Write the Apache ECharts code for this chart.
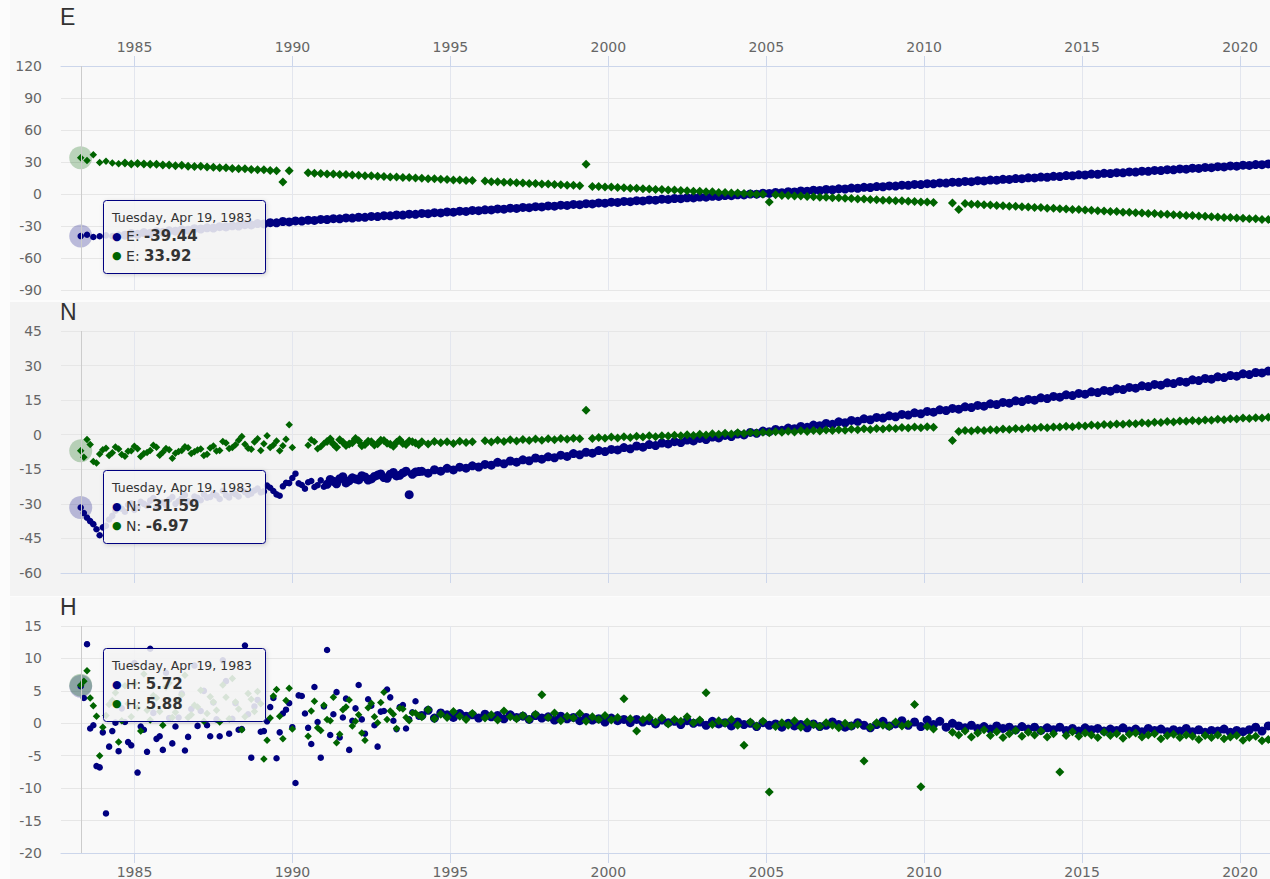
<!DOCTYPE html>
<html><head><meta charset="utf-8">
<script src="https://cdn.jsdelivr.net/npm/echarts@6/dist/echarts.min.js"></script>
<style>
html,body{margin:0;padding:0;background:#fcfcfc;width:1270px;height:879px;overflow:hidden}
.bg{position:absolute;left:10px;width:1260px}
#chart{position:absolute;left:0;top:0;width:1270px;height:879px}
</style></head><body>
<div class="bg" style="top:0;height:300px;background:#f9f9f9"></div>
<div class="bg" style="top:302px;height:294px;background:#f3f3f3"></div>
<div class="bg" style="top:597px;height:282px;background:#f9f9f9"></div>
<div id="chart"></div>
<script>
// sampling: first sample is the hovered date (Tuesday, Apr 19, 1983), then every 0.2 year
const START_YEAR = 1983.296;
const STEP_YEARS = 0.2;
// extra early samples (sparse, noisy years) sit halfway between the regular ones
const EXTRA_OFFSET = 0.1;
const denseFrom = [1984.5, 1991, 1994]; // per panel: from here markers merge into a band
const X_MIN = 1982.672, X_MAX = 2020.95;
const tickYears = [1985, 1990, 1995, 2000, 2005, 2010, 2015, 2020];
const panelNames = ['E', 'N', 'H'];
const yRanges = [[-90, 120, 30], [-60, 45, 15], [-20, 15, 5]];
const hoverLabel = 'Tuesday, Apr 19, 1983';
const blueName = 'navy solution', greenName = 'green solution';

const eBlue = [-39.44,-38.2,-40.3,-39.6,-38.8,-39.5,-38.0,-38.6,-37.1,-37.8,-36.2,-36.9,-35.4,-35.9,-34.5,-34.9,-33.6,-33.9,-32.5,-32.8,
-31.7,-31.9,-30.6,-30.9,-29.8,-30.1,-28.8,-29.0,-27.7,-28.1,-26.9,-27.0,-25.8,-26.2,-25.2,-25.4,-24.5,-24.8,-23.8,-23.9,
-23.1,-23.3,-22.4,-22.6,-21.8,-21.9,-21.0,-21.2,-20.3,-20.5,-19.6,-19.8,-18.9,-19.1,-18.2,-18.4,-17.5,-17.7,-16.8,-17.0,
-16.1,-16.3,-15.4,-15.6,-14.8,-14.9,-14.0,-14.2,-13.3,-13.5,-12.6,-12.8,-11.9,-12.1,-11.2,-11.4,-10.5,-10.7,-9.8,-10.0,
-9.1,-9.3,-8.4,-8.6,-7.7,-7.9,-7.0,-7.2,-6.3,-6.5,-5.6,-5.8,-4.9,-5.1,-4.2,-4.4,-3.5,-3.7,-2.8,-3.0,
-2.1,-2.3,-1.4,-1.6,-0.7,-0.9,0.0,-0.2,0.7,0.5,1.4,1.2,2.1,1.9,2.8,2.6,3.5,3.3,4.2,4.0,
4.9,4.7,5.6,5.4,6.3,6.1,7.0,6.8,7.6,7.4,8.3,8.1,9.0,8.8,9.7,9.5,10.4,10.2,11.1,10.9,
11.8,11.6,12.5,12.3,13.1,13.0,13.8,13.7,14.5,14.4,15.2,15.1,15.9,15.7,16.6,16.4,17.3,17.1,18.0,17.8,
18.7,18.5,19.4,19.2,20.0,19.9,20.7,20.6,21.4,21.3,22.1,22.0,22.8,22.7,23.5,23.3,24.2,24.0,24.9,24.7,
25.6,25.4,26.3,26.1,27.0,26.8,27.6,27.5,28.2];

const eGreen = [33.92,31.5,36.8,29.6,30.8,29.1,28.4,29.0,28.1,28.7,28.2,27.8,27.9,27.2,27.3,26.6,26.9,26.1,25.7,25.9,
25.2,25.1,24.5,24.6,24.0,23.6,23.7,23.0,22.8,22.7,22.1,21.9,11.2,21.8,null,null,19.9,19.4,19.3,18.8,
18.8,18.3,18.2,17.7,17.6,17.2,17.1,16.6,16.5,16.0,16.0,15.5,15.4,14.9,14.8,14.4,14.3,13.8,13.7,13.2,
13.2,12.7,12.6,null,12.1,11.6,11.5,11.0,10.9,10.5,10.4,9.9,9.8,9.3,9.3,8.8,8.7,8.2,8.1,7.7,
28.0,7.1,7.0,6.5,6.5,6.0,5.9,5.4,5.3,4.9,4.8,4.3,4.2,3.7,3.7,3.2,3.1,2.6,2.5,2.1,
2.0,1.5,1.4,0.9,0.9,0.4,0.3,-0.2,-0.3,-7.6,-0.8,-1.3,-1.4,-1.9,-1.9,-2.4,-2.5,-3.0,-3.1,-3.5,
-3.6,-4.1,-4.2,-4.7,-4.7,-5.2,-5.3,-5.8,-5.9,-6.3,-6.4,-6.9,-7.0,-7.5,-7.5,-8.0,null,null,-8.4,-14.6,
-9.0,-9.5,-9.6,-10.1,-10.3,-10.8,-10.9,-11.4,-11.5,-12.0,-12.1,-12.6,-12.7,-13.3,-13.4,-13.9,-14.0,-14.5,-14.6,-15.1,
-15.2,-15.7,-15.9,-16.4,-16.5,-17.0,-17.1,-17.6,-17.7,-18.2,-18.3,-18.9,-19.0,-19.5,-19.6,-20.1,-20.2,-20.7,-20.8,-21.3,
-21.5,-22.0,-22.1,-22.6,-22.7,-23.2,-23.3,-23.8,-23.9];

const nBlue = [-31.59,-36.0,-38.8,-43.6,-39.5,-35.2,-31.0,-33.4,-29.8,-31.5,-30.0,-28.6,-31.2,-29.4,-28.1,-30.0,-27.6,-28.9,-26.8,-28.4,
-27.3,-25.6,-27.9,-26.2,-25.1,-26.8,-24.9,-25.5,-23.4,-24.6,-23.0,-25.9,-22.4,-21.0,-16.9,-21.8,-20.6,-22.7,-19.8,-21.5,
-20.2,-19.1,-20.9,-18.7,-19.6,-18.3,-19.2,-17.5,-18.6,-17.1,-17.9,-16.6,-26.0,-16.2,-15.9,-16.7,-15.2,-15.8,-14.6,-15.3,
-14.1,-14.5,-13.5,-14.0,-12.9,-13.2,-12.0,-12.6,-11.4,-11.9,-10.9,-11.3,-10.1,-10.6,-9.6,-10.0,-8.9,-9.4,-8.2,-8.7,
-7.6,-8.0,-6.9,-7.3,-6.4,-6.6,-5.6,-6.1,-4.9,-5.4,-4.3,-4.7,-3.6,-4.0,-3.0,-3.4,-2.3,-2.7,-1.6,-2.1,
-1.0,-1.4,-0.3,-0.8,0.3,-0.1,1.0,0.6,1.6,1.3,2.3,1.9,2.9,2.6,3.6,3.2,4.2,3.9,4.9,4.5,
5.6,5.2,6.2,5.8,6.9,6.5,7.5,7.2,8.2,7.8,8.8,8.5,9.5,9.1,10.1,9.8,10.8,10.5,11.4,11.1,
12.1,11.8,12.7,12.4,13.4,13.1,14.0,13.7,14.7,14.4,15.3,15.0,16.0,15.7,16.6,16.3,17.3,17.0,17.9,17.6,
18.6,18.3,19.2,18.9,19.9,19.6,20.5,20.2,21.2,20.9,21.8,21.5,22.5,22.2,23.1,22.8,23.8,23.5,24.4,24.1,
25.1,24.8,25.7,25.4,26.4,26.1,27.0,26.8,27.6];

const nGreen = [-6.97,-2.1,-11.6,-8.4,-5.9,-7.8,-6.2,-9.3,-7.0,-6.1,-8.2,-6.8,-5.4,-7.6,-6.5,-8.0,-6.9,-5.7,-7.4,-6.2,
-8.5,-4.9,-6.8,-3.6,-5.5,-2.4,-4.1,-6.3,-1.8,-3.9,-5.6,-2.7,-4.8,4.3,null,null,-4.6,-3.1,-5.2,-2.9,
-4.0,-2.2,-4.7,-3.5,-2.6,-4.3,-3.0,-3.9,-2.5,-4.1,-3.3,-3.8,-2.7,-3.6,-3.1,-4.0,-2.9,-3.5,-3.0,-3.8,
-2.8,-3.4,-3.0,null,-2.6,-3.2,-2.4,-2.9,-2.2,-2.7,-2.1,-2.5,-1.9,-2.4,-1.8,-2.2,-1.6,-2.0,-1.5,-1.8,
10.6,-1.6,-1.2,-1.5,-1.0,-1.4,-0.9,-1.2,-0.7,-1.0,-0.5,-0.9,-0.4,-0.6,-0.2,-0.5,0.0,-0.3,0.2,-0.1,
0.4,0.2,0.6,0.3,0.8,0.5,1.0,0.7,1.1,0.9,1.3,1.1,1.5,1.2,1.7,1.4,1.8,1.6,2.0,1.8,
2.2,1.9,2.4,2.1,2.6,2.3,2.7,2.5,2.9,2.7,3.1,2.9,3.3,3.0,3.5,3.2,null,null,-2.5,1.4,
1.8,1.6,2.0,1.8,2.2,2.0,2.5,2.3,2.7,2.5,3.0,2.8,3.2,3.0,3.4,3.3,3.7,3.5,3.9,3.8,
4.2,4.0,4.4,4.3,4.7,4.5,4.9,4.8,5.2,5.0,5.4,5.3,5.7,5.5,5.9,5.8,6.2,6.0,6.4,6.3,
6.7,6.5,6.9,6.8,7.2,7.0,7.4,7.3,7.6];

const hBlue = [5.72,12.2,-0.3,-6.8,-13.9,-1.2,-4.3,0.2,-3.4,-7.6,-1.0,11.5,-2.4,-4.1,0.8,-0.5,4.6,-2.1,8.9,1.9,
-0.3,3.2,-2.0,6.5,0.7,-1.0,12.0,-5.3,3.6,-1.2,2.5,-5.4,1.5,3.1,-9.2,4.2,-0.7,5.6,-5.3,11.3,
1.4,-2.2,3.8,0.4,5.9,-1.6,2.7,-3.6,1.9,4.0,-0.9,2.8,0.6,3.4,1.2,2.0,0.8,1.6,1.3,0.9,
1.5,1.1,1.3,0.8,1.4,1.0,1.2,0.7,1.3,0.9,1.1,0.6,1.2,0.8,1.0,0.5,1.1,0.7,0.9,0.4,
0.9,0.5,0.7,0.2,0.8,0.4,0.6,0.1,0.6,0.2,0.4,-0.1,0.5,0.1,0.3,-0.2,0.4,0.0,0.2,-0.3,
0.3,-0.1,0.1,-0.4,0.2,-0.2,0.0,-0.5,0.1,-0.3,-0.1,-0.6,0.0,-0.4,-0.2,-0.7,-0.1,-0.5,-0.3,0.2,
-0.2,-0.6,-0.4,0.1,-0.3,-0.7,-0.2,0.3,-0.4,-0.1,0.4,-0.3,0.2,-0.5,0.5,-0.2,0.3,-0.6,0.0,-0.4,
-0.7,-0.3,-0.8,-0.5,-0.9,-0.4,-0.8,-0.6,-1.0,-0.5,-0.9,-0.6,-1.1,-0.7,-1.0,-0.6,-1.1,-0.8,-1.2,-0.7,
-1.0,-0.8,-1.2,-0.9,-1.1,-0.7,-1.2,-0.9,-1.3,-0.8,-1.1,-0.9,-1.3,-1.0,-1.2,-0.8,-1.3,-1.0,-1.4,-1.1,
-1.2,-0.9,-1.4,-1.1,-1.3,-1.0,-0.6,-1.2,-0.4];

const hGreen = [5.88,8.1,2.7,-5.0,1.2,3.5,-2.9,5.8,1.0,2.4,7.6,0.5,3.9,-0.3,6.2,1.7,4.4,0.9,2.8,5.1,
1.5,3.3,0.2,4.0,6.9,2.2,1.0,3.7,4.9,-5.5,0.8,5.2,-2.4,5.4,null,null,-2.0,3.4,-1.1,0.6,
4.0,-1.7,2.5,-0.4,1.3,-2.6,3.1,0.1,4.8,1.9,-0.8,2.2,0.4,1.6,1.0,2.1,0.7,1.4,0.9,1.8,
1.1,0.6,1.5,null,0.8,1.3,0.5,1.9,1.0,0.7,1.2,0.6,1.4,4.4,0.9,1.6,0.4,1.1,0.8,1.5,
0.3,1.0,0.6,1.2,0.5,0.9,3.8,0.7,-1.2,0.6,0.9,0.2,0.8,-0.1,0.6,0.3,1.0,0.1,0.5,4.7,
-0.2,0.4,0.0,0.6,-0.3,-3.4,0.2,-0.4,0.3,-10.6,-0.5,0.1,-0.3,0.4,-0.6,0.2,-0.2,-0.5,0.1,-0.3,
-0.7,0.0,-0.4,-0.2,-5.8,-0.6,0.1,-0.3,-0.5,0.2,-0.4,-0.1,2.9,-9.8,-0.5,-0.9,null,null,-1.4,-1.8,
-1.2,-2.1,-1.5,-1.0,-1.9,-1.3,-2.2,-1.6,-1.1,-2.0,-1.4,-1.8,-1.2,-2.1,-1.6,-7.5,-1.9,-1.3,-2.0,-1.5,
-1.8,-2.2,-1.4,-1.9,-1.6,-2.3,-1.7,-1.5,-2.1,-1.8,-1.6,-2.4,-1.9,-1.7,-2.2,-1.8,-2.0,-2.5,-1.9,-2.2,
-1.8,-2.4,-2.1,-1.9,-2.6,-2.2,-2.0,-2.7,-2.5];

// extra early samples, 1983.4 .. 1994.0 (N and H panels, where the early scatter is visible)
const nBlueExtra = [-34.0,-37.5,-41.0,-40.2,-36.8,-33.0,-32.1,-30.4,-32.6,-29.1,-30.8,-27.5,-29.6,-30.7,-27.0,-28.8,-26.2,-29.5,-27.4,-25.9,
-27.0,-26.4,-24.3,-27.2,-25.8,-23.9,-26.1,-24.2,-25.0,-22.1,-24.4,-26.5,-20.9,-18.8,-21.1,-23.4,-20.1,-21.9,-22.6,-19.4,
-21.3,-18.2,-20.0,-19.2,-17.8,-19.7,-18.1,-17.0,-18.9,-16.4,-17.6,-15.8,-17.2,-16.0];
const nGreenExtra = [-9.8,-4.2,-12.3,-6.5,-9.0,-5.3,-8.6,-7.2,-5.0,-9.5,-7.7,-4.6,-8.9,-6.0,-10.2,-7.3,-5.2,-8.1,-6.6,-9.0,
-5.8,-7.1,-2.9,-6.0,-4.4,-0.8,-5.9,-3.2,-6.9,-0.5,-4.5,-7.0,-2.0,-5.6,null,null,-2.2,-6.1,-3.8,-1.9,
-5.4,-3.3,-4.0,-1.6,-4.8,-2.8,-4.5,-2.4,-3.7,-5.0,-2.2,-4.2,-3.0,-4.4];
const hBlueExtra = [3.9,-0.8,-6.6,-1.4,-3.6,0.1,2.3,-2.9,9.3,-0.5,-4.4,1.6,-2.0,7.8,-3.1,0.9,-4.2,2.2,-0.4,5.0,
-2.0,0.6,9.7,-1.6,3.1,-0.9,1.4,2.6,-1.3,0.3,3.9,-1.4,2.1,-0.6,4.3,1.5,-3.2,0.2,2.6,-1.8,
4.8,0.9,-4.1,2.3,0.6,3.7,-0.3,1.8,5.2,0.4,2.5,-0.8,1.7,1.0];
const hGreenExtra = [6.5,3.9,1.1,-0.6,2.9,4.7,0.4,3.0,6.1,-1.2,2.0,4.3,1.8,5.6,0.9,3.6,7.4,1.3,2.5,0.3,
4.1,2.0,5.9,0.7,3.3,-1.0,4.6,1.8,3.0,-2.6,4.2,1.1,3.5,-0.9,null,null,1.9,-0.7,2.8,0.4,
-3.0,2.1,3.6,0.3,-1.5,2.4,1.0,3.2,0.6,1.4,2.3,0.9,1.6,1.2];

const panelData = [[eBlue, eGreen, [], []], [nBlue, nGreen, nBlueExtra, nGreenExtra], [hBlue, hGreen, hBlueExtra, hGreenExtra]];

const NAVY = '#000080', GREEN = '#006400';
const FONT = '"DejaVu Sans", "Liberation Sans", sans-serif';
const grids = [
  {left: 61, top: 66, width: 1209, height: 224},
  {left: 61, top: 331, width: 1209, height: 242},
  {left: 61, top: 626, width: 1209, height: 229}
];
const titleTops = [5, 300, 595];
const tipTops = [200, 470, 648];

function pairs(arr, extra) {
  const out = [];
  arr.forEach((v, i) => { if (v !== null) out.push([START_YEAR + i * STEP_YEARS, v]); });
  extra.forEach((v, j) => { if (v !== null) out.push([START_YEAR + EXTRA_OFFSET + j * STEP_YEARS, v]); });
  return out;
}
function fmt(v) { return v.toFixed(2); }

const xAxes = [], yAxes = [], series = [], titles = [], graphics = [];
for (let p = 0; p < 3; p++) {
  const [blue, green, blueX, greenX] = panelData[p];
  const pos = p === 0 ? 'top' : 'bottom';
  const dense = denseFrom[p];
  xAxes.push({
    type: 'value', gridIndex: p, position: pos, min: X_MIN, max: X_MAX, splitNumber: 8,
    axisLine: {show: true, onZero: false, lineStyle: {color: '#ccd6eb', width: 1}},
    axisTick: {show: true, length: 10, customValues: tickYears, lineStyle: {color: '#ccd6eb'}},
    axisLabel: {show: p !== 1, customValues: tickYears,
      color: '#666666', fontSize: 14, fontFamily: FONT, margin: 12,
      formatter: v => String(Math.round(v))},
    splitLine: {show: true, lineStyle: {color: '#e3e6ee', width: 1}}
  });
  yAxes.push({
    type: 'value', gridIndex: p, min: yRanges[p][0], max: yRanges[p][1], interval: yRanges[p][2],
    axisLine: {show: false}, axisTick: {show: false},
    axisLabel: {color: '#666666', fontSize: 14, fontFamily: FONT, margin: 19},
    splitLine: {show: true, lineStyle: {color: '#e6e6e6', width: 1}}
  });
  titles.push({text: panelNames[p], left: 60, top: titleTops[p], padding: 0,
    textStyle: {fontSize: 23, fontWeight: 'normal', color: '#333333', fontFamily: '"Liberation Sans", sans-serif'}});
  // hover halos
  series.push({type: 'scatter', name: 'halo', xAxisIndex: p, yAxisIndex: p, z: 1, silent: true,
    symbol: 'circle', symbolSize: 23, itemStyle: {color: 'rgba(0,0,128,0.25)', opacity: 1},
    data: [[START_YEAR, blue[0]]]});
  series.push({type: 'scatter', name: 'halo', xAxisIndex: p, yAxisIndex: p, z: 1, silent: true,
    symbol: 'circle', symbolSize: 23, itemStyle: {color: 'rgba(0,100,0,0.25)', opacity: 1},
    data: [[START_YEAR, green[0]]]});
  series.push({type: 'scatter', name: blueName, xAxisIndex: p, yAxisIndex: p, z: 2,
    symbol: 'circle', symbolSize: v => (v[0] >= dense ? 9 : 6.5), itemStyle: {color: NAVY, opacity: 1},
    data: pairs(blue, blueX),
    markLine: {silent: true, symbol: 'none', animation: false, label: {show: false},
      lineStyle: {color: '#cccccc', type: 'solid', width: 1},
      data: [{xAxis: START_YEAR}]}});
  series.push({type: 'scatter', name: greenName, xAxisIndex: p, yAxisIndex: p, z: 3,
    symbol: 'diamond', symbolSize: v => (v[0] >= dense ? 9 : 7.5), itemStyle: {color: GREEN, opacity: 1},
    data: pairs(green, greenX)});
  // tooltip box
  const t = tipTops[p];
  graphics.push({type: 'rect', z: 100, shape: {x: 103.5, y: t + 0.5, width: 162, height: 73, r: 3},
    style: {fill: 'rgba(247,247,247,0.86)', stroke: NAVY, lineWidth: 1,
      shadowBlur: 4, shadowColor: 'rgba(0,0,0,0.18)', shadowOffsetX: 1, shadowOffsetY: 1}});
  graphics.push({type: 'text', z: 101, x: 112, y: t + 17,
    style: {text: hoverLabel, fill: '#333333', font: '12.5px ' + FONT, verticalAlign: 'middle', textVerticalAlign: 'middle'}});
  const lines = [[NAVY, blue[0]], [GREEN, green[0]]];
  lines.forEach((ln, k) => {
    graphics.push({type: 'text', z: 101, x: 112, y: t + 36 + k * 19.5,
      style: {text: '{b|●} ' + panelNames[p] + ': {v|' + fmt(ln[1]) + '}',
        fill: '#333333', fontSize: 14, fontFamily: FONT, verticalAlign: 'middle', textVerticalAlign: 'middle',
        rich: {b: {fill: ln[0], fontSize: 11, fontFamily: FONT}, v: {fontWeight: 'bold', fontSize: 15, fill: '#333333', fontFamily: FONT}}}});
  });
}

const chart = echarts.init(document.getElementById('chart'), null, {renderer: 'svg', width: 1270, height: 879});
chart.setOption({
  animation: false,
  backgroundColor: 'transparent',
  title: titles,
  grid: grids,
  xAxis: xAxes,
  yAxis: yAxes,
  series: series,
  graphic: graphics
});
</script>
</body></html>
